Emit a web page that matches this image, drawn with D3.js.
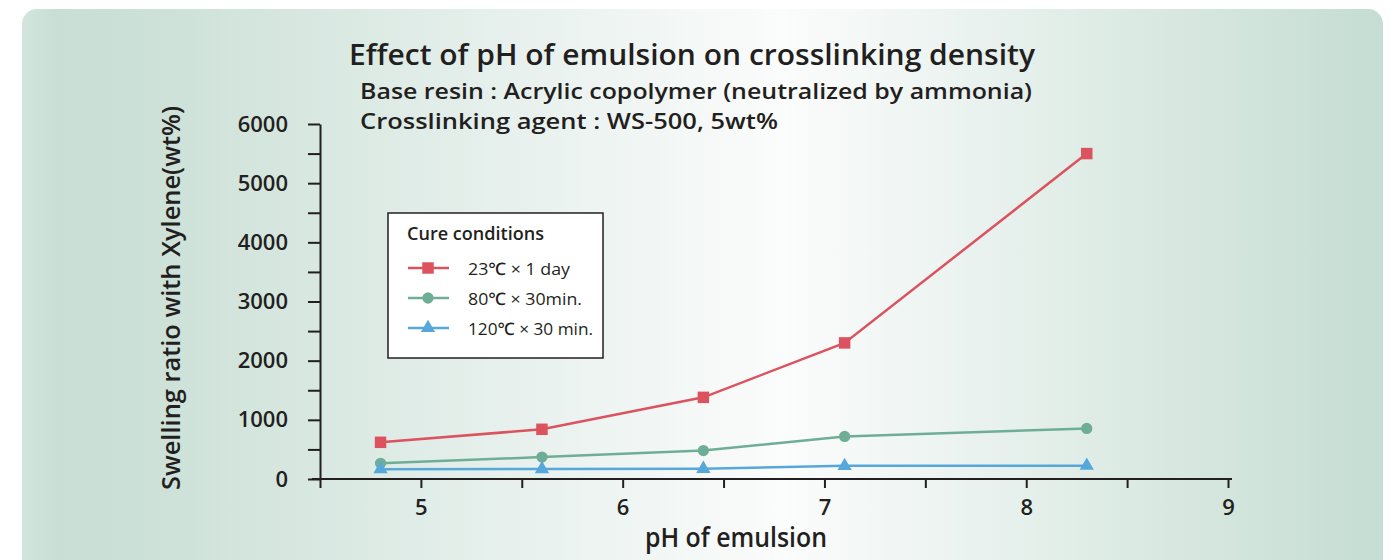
<!DOCTYPE html>
<html>
<head>
<meta charset="utf-8">
<script src="https://cdn.jsdelivr.net/npm/d3@7"></script>
<style>
  body { margin: 0; background: #fff; }
  text { font-family: "Open Sans", "Noto Sans", sans-serif; fill: #231f20; font-weight: 600; }
</style>
</head>
<body>
<svg id="chart"></svg>
<script>
const width = 1397;
const height = 560;

// data
const phValues = [4.8, 5.6, 6.4, 7.1, 8.3];
const seriesNames = ['23\u2103 \u00d7 1 day', '80\u2103 \u00d7 30min.', '120\u2103 \u00d7 30 min.'];
const redValues = [620, 840, 1380, 2300, 5500];
const greenValues = [265, 370, 480, 720, 855];
const blueValues = [165, 168, 172, 222, 225];
const xTicks = [4.5, 5, 5.5, 6, 6.5, 7, 7.5, 8, 8.5, 9];
const yTicks = [0, 500, 1000, 1500, 2000, 2500, 3000, 3500, 4000, 4500, 5000, 5500, 6000];

const colors = ['#dc535f', '#6fae96', '#57a8da'];
const symbols = [d3.symbolSquare, d3.symbolCircle, d3.symbolTriangle];
const symbolSizes = [132, 100, 88];
const legendWidths = [102, 114, 125];

const series = seriesNames.map((name, i) => ({
    name: name,
    color: colors[i],
    symbol: symbols[i],
    size: symbolSizes[i],
    textWidth: legendWidths[i],
    values: [redValues, greenValues, blueValues][i].map((v, j) => ({ph: phValues[j], value: v}))
}));

const svg = d3.select('#chart')
    .attr('width', width)
    .attr('height', height);

// background panel with horizontal gradient
const grad = svg.append('defs').append('linearGradient')
    .attr('id', 'bg')
    .attr('x1', 0).attr('x2', 1).attr('y1', 0).attr('y2', 0);
grad.append('stop').attr('offset', 0).attr('stop-color', '#d1e5dc');
grad.append('stop').attr('offset', 0.025).attr('stop-color', '#c9dfd6');
grad.append('stop').attr('offset', 0.08).attr('stop-color', '#cbe0d7');
grad.append('stop').attr('offset', 0.56).attr('stop-color', '#fbfcfc');
grad.append('stop').attr('offset', 1).attr('stop-color', '#c5ddd2');

svg.append('rect')
    .attr('x', 22).attr('y', 9)
    .attr('width', 1361).attr('height', 600)
    .attr('rx', 15)
    .attr('fill', 'url(#bg)');

const x = d3.scaleLinear().domain([4.5, 9]).range([320, 1228]);
const y = d3.scaleLinear().domain([0, 6000]).range([479, 124]);

const xAxis = svg.append('g')
    .attr('transform', `translate(0, ${y(0)})`)
    .call(d3.axisBottom(x)
        .tickValues(xTicks)
        .tickSize(9)
        .tickSizeOuter(0)
        .tickPadding(11)
        .tickFormat(d => Number.isInteger(d) && d > 4.5 ? d : ''));

const yAxis = svg.append('g')
    .attr('transform', `translate(${x(4.5)}, 0)`)
    .call(d3.axisLeft(y)
        .tickValues(yTicks)
        .tickSize(12)
        .tickSizeOuter(0)
        .tickPadding(20)
        .tickFormat(d => d % 1000 === 0 ? d : ''));

[xAxis, yAxis].forEach(ax => {
    ax.selectAll('path, line').attr('stroke', '#231f20').attr('stroke-width', 2);
    ax.selectAll('text').attr('font-size', 22).style('fill', '#231f20')
        .style('font-family', '"Open Sans", sans-serif')
        .style('font-weight', 600);
});
xAxis.select('.domain').attr('d', `M${x(4.5) - 8},0H${x(9) + 4}`);

// lines and markers
const line = d3.line()
    .x(d => x(d.ph))
    .y(d => y(d.value));

series.forEach(s => {
    svg.append('path')
        .datum(s.values)
        .attr('fill', 'none')
        .attr('stroke', s.color)
        .attr('stroke-width', 2.5)
        .attr('d', line);

    svg.selectAll(null)
        .data(s.values)
        .enter()
        .append('path')
        .attr('transform', d => `translate(${x(d.ph)}, ${y(d.value)})`)
        .attr('d', d3.symbol().type(s.symbol).size(s.size))
        .attr('fill', s.color);
});

// titles
svg.append('text')
    .attr('x', 349).attr('y', 65)
    .attr('font-size', 29)
    .attr('textLength', 686)
    .attr('lengthAdjust', 'spacingAndGlyphs')
    .text('Effect of pH of emulsion on crosslinking density');

svg.append('text')
    .attr('x', 360).attr('y', 99)
    .attr('font-size', 22)
    .attr('textLength', 672)
    .attr('lengthAdjust', 'spacingAndGlyphs')
    .text('Base resin : Acrylic copolymer (neutralized by ammonia)');

svg.append('text')
    .attr('x', 360).attr('y', 129)
    .attr('font-size', 22)
    .attr('textLength', 418)
    .attr('lengthAdjust', 'spacingAndGlyphs')
    .text('Crosslinking agent : WS-500, 5wt%');

svg.append('text')
    .attr('transform', 'translate(180, 298) rotate(-90)')
    .attr('text-anchor', 'middle')
    .attr('font-size', 26)
    .attr('textLength', 384)
    .attr('lengthAdjust', 'spacingAndGlyphs')
    .text('Swelling ratio with Xylene(wt%)');

svg.append('text')
    .attr('x', 736).attr('y', 547)
    .attr('text-anchor', 'middle')
    .attr('font-size', 27)
    .attr('textLength', 182)
    .attr('lengthAdjust', 'spacingAndGlyphs')
    .text('pH of emulsion');

// legend
const legend = svg.append('g');
legend.append('rect')
    .attr('x', 388).attr('y', 213)
    .attr('width', 215).attr('height', 145)
    .attr('fill', '#fff')
    .attr('stroke', '#231f20')
    .attr('stroke-width', 1.5);

legend.append('text')
    .attr('x', 407).attr('y', 240)
    .attr('font-size', 18)
    .attr('textLength', 137)
    .attr('lengthAdjust', 'spacingAndGlyphs')
    .text('Cure conditions');

const legendY = d3.scalePoint().domain(seriesNames).range([268, 328]);

series.forEach(s => {
    const ly = legendY(s.name);
    legend.append('line')
        .attr('x1', 408).attr('x2', 449)
        .attr('y1', ly).attr('y2', ly)
        .attr('stroke', s.color)
        .attr('stroke-width', 2.5);
    legend.append('path')
        .attr('transform', `translate(428, ${ly})`)
        .attr('d', d3.symbol().type(s.symbol).size(s.size))
        .attr('fill', s.color);
    legend.append('text')
        .attr('x', 468).attr('y', ly + 7)
        .attr('font-size', 17)
        .attr('font-weight', 500)
        .style('font-weight', 500)
        .attr('textLength', s.textWidth)
        .attr('lengthAdjust', 'spacingAndGlyphs')
        .text(s.name);
});
</script>
</body>
</html>
